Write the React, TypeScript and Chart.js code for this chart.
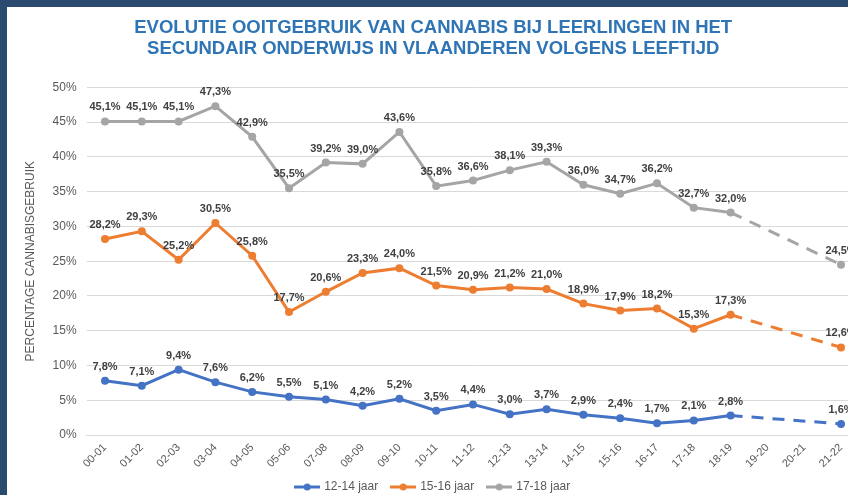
import React, { useEffect, useRef } from "react";
import { Chart, registerables } from "chart.js";

Chart.register(...registerables);

const categories = [
  "00-01", "01-02", "02-03", "03-04", "04-05", "05-06", "07-08", "08-09", "09-10", "10-11",
  "11-12", "12-13", "13-14", "14-15", "15-16", "16-17", "17-18", "18-19", "19-20", "20-21", "21-22",
];
const age1214: (number | null)[] = [7.8, 7.1, 9.4, 7.6, 6.2, 5.5, 5.1, 4.2, 5.2, 3.5, 4.4, 3.0, 3.7, 2.9, 2.4, 1.7, 2.1, 2.8, null, null, 1.6];
const age1516: (number | null)[] = [28.2, 29.3, 25.2, 30.5, 25.8, 17.7, 20.6, 23.3, 24.0, 21.5, 20.9, 21.2, 21.0, 18.9, 17.9, 18.2, 15.3, 17.3, null, null, 12.6];
const age1718: (number | null)[] = [45.1, 45.1, 45.1, 47.3, 42.9, 35.5, 39.2, 39.0, 43.6, 35.8, 36.6, 38.1, 39.3, 36.0, 34.7, 36.2, 32.7, 32.0, null, null, 24.5];
const seriesNames = ["12-14 jaar", "15-16 jaar", "17-18 jaar"];
const seriesColors = ["#4472C4", "#ED7D31", "#A5A5A5"];
const yMin = 0;
const yMax = 50;
const yStep = 5;
const titleLines = [
  "EVOLUTIE OOITGEBRUIK VAN CANNABIS BIJ LEERLINGEN IN HET",
  "SECUNDAIR ONDERWIJS IN VLAANDEREN VOLGENS LEEFTIJD",
];
const yTitle = "PERCENTAGE CANNABISGEBRUIK";

const FONT = "'Liberation Sans', Arial, sans-serif";

function fmt(v: number) {
  return v.toFixed(1).replace(".", ",") + "%";
}

function legendImage(color: string) {
  const c = document.createElement("canvas");
  c.width = 26;
  c.height = 12;
  const g = c.getContext("2d")!;
  g.strokeStyle = color;
  g.lineWidth = 3;
  g.beginPath();
  g.moveTo(0, 6);
  g.lineTo(26, 6);
  g.stroke();
  g.fillStyle = color;
  g.beginPath();
  g.arc(13, 6, 3.5, 0, Math.PI * 2);
  g.fill();
  return c;
}

const labelPlugin = {
  id: "pointValueLabels",
  afterDatasetsDraw(chart: any) {
    const ctx = chart.ctx;
    ctx.save();
    ctx.font = `bold 11px ${FONT}`;
    ctx.fillStyle = "#404040";
    ctx.textAlign = "center";
    ctx.textBaseline = "middle";
    chart.data.datasets.forEach((ds: any, i: number) => {
      const meta = chart.getDatasetMeta(i);
      meta.data.forEach((pt: any, j: number) => {
        const v = ds.data[j];
        if (v == null) return;
        ctx.fillText(fmt(v), pt.x, pt.y - 14);
      });
    });
    ctx.restore();
  },
};

const gapDash = (ctx: any) =>
  ctx.p0.skip || ctx.p1.skip || ctx.p1DataIndex - ctx.p0DataIndex > 1 ? [12, 9] : undefined;

export default function App() {
  const ref = useRef<HTMLCanvasElement | null>(null);

  useEffect(() => {
    if (!ref.current) return;
    Chart.defaults.font.family = FONT;
    const seriesData = [age1214, age1516, age1718];
    const images = seriesColors.map(legendImage);
    const chart = new Chart(ref.current, {
      type: "line",
      data: {
        labels: categories,
        datasets: seriesData.map((d, i) => ({
          label: seriesNames[i],
          data: d,
          borderColor: seriesColors[i],
          backgroundColor: seriesColors[i],
          borderWidth: 3,
          pointRadius: 4,
          pointHoverRadius: 4,
          pointBorderWidth: 0,
          pointBackgroundColor: seriesColors[i],
          tension: 0,
          spanGaps: true,
          segment: {
            borderDash: gapDash,
          },
        })),
      },
      options: {
        responsive: false,
        animation: false,
        devicePixelRatio: 1,
        layout: { padding: { left: 7, right: 20.6, top: 0, bottom: 7 } },
        plugins: {
          tooltip: { enabled: false },
          title: {
            display: true,
            text: titleLines,
            color: "#2F75B5",
            font: { size: 18.5, weight: "bold", family: FONT, lineHeight: 1.1 },
            padding: { top: 17.9, bottom: 28.8 },
          },
          legend: {
            position: "bottom",
            labels: {
              usePointStyle: true,
              pointStyleWidth: 22,
              padding: 14,
              color: "#595959",
              font: { size: 12, family: FONT },
              generateLabels: (ch: any) =>
                ch.data.datasets.map((ds: any, i: number) => ({
                  text: ds.label,
                  fillStyle: seriesColors[i],
                  strokeStyle: seriesColors[i],
                  fontColor: "#595959",
                  lineWidth: 0,
                  pointStyle: images[i],
                  hidden: false,
                  datasetIndex: i,
                })),
            },
          },
        },
        scales: {
          x: {
            offset: true,
            grid: { display: false, drawTicks: false },
            border: { display: true, color: "#D9D9D9", width: 1 },
            ticks: {
              color: "#595959",
              font: { size: 11, family: FONT },
              maxRotation: 45,
              minRotation: 45,
              padding: 6,
              autoSkip: false,
            },
            afterFit: (s: any) => {
              s.height = 32;
            },
          },
          y: {
            min: yMin,
            max: yMax,
            grid: { color: "#D9D9D9", lineWidth: 1, drawTicks: false },
            border: { display: false },
            ticks: {
              stepSize: yStep,
              color: "#595959",
              font: { size: 12, family: FONT },
              padding: 10,
              callback: (v: any) => `${v}%`,
            },
            title: {
              display: true,
              text: yTitle,
              color: "#595959",
              font: { size: 12, family: FONT },
              padding: { top: 16, bottom: 0 },
            },
            afterFit: (s: any) => {
              s.width = 79.6;
            },
          },
        },
      } as any,
      plugins: [labelPlugin],
    });
    return () => chart.destroy();
  }, []);

  return (
    <div
      style={{
        position: "fixed",
        left: 0,
        top: 0,
        width: 848,
        height: 495,
        overflow: "hidden",
        background: "#ffffff",
      }}
    >
      <canvas ref={ref} width={880} height={510} style={{ position: "absolute", left: 0, top: 0, width: 880, height: 510 }} />
      <div style={{ position: "absolute", left: 0, top: 0, width: 848, height: 7, background: "#2B4A6F" }} />
      <div style={{ position: "absolute", left: 0, top: 0, width: 7, height: 495, background: "#2B4A6F" }} />
    </div>
  );
}
